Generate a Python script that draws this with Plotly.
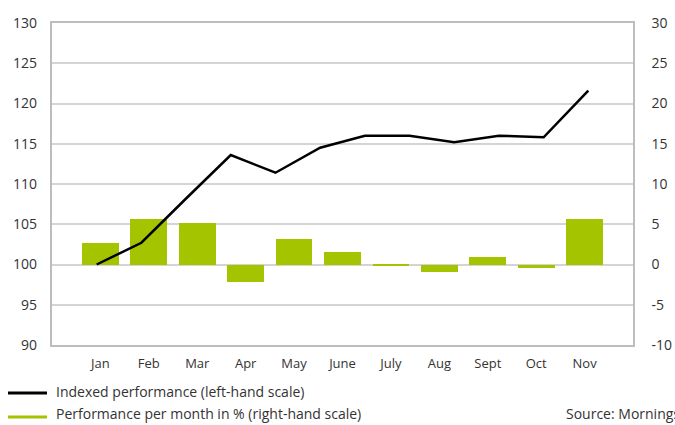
import plotly.graph_objects as go

months = ["Jan", "Feb", "Mar", "Apr", "May", "June", "July", "Aug", "Sept", "Oct", "Nov"]
monthly_pct = [2.7, 5.7, 5.2, -2.2, 3.2, 1.6, -0.15, -0.9, 0.95, -0.4, 5.7]
# indexed performance: start value + 11 month-end values
index_points = list(range(12))
index_values = [100.0, 102.7, 108.2, 113.6, 111.4, 114.5, 116.0, 116.0, 115.2, 116.0, 115.8, 121.6]

left_ticks = list(range(90, 131, 5))
right_ticks = list(range(-10, 31, 5))
right_ticktext = [str(v) for v in right_ticks]  # plain hyphen minus as in the original

GREEN = "#a5c400"
GRID = "#d4d4d4"
FRAME = "#bdbdbd"
TEXT = "#333333"
FONT = "Open Sans"

fig = go.Figure()
# bars: main subplot (x, y) where y is the right-hand % scale
fig.add_trace(go.Bar(
    x=list(range(len(months))), y=monthly_pct, marker_color=GREEN, marker_line_width=0,
    width=0.76, xaxis="x", yaxis="y", showlegend=False, hoverinfo="skip"))
# line: overlay subplot (x2, y2) where y2 is the left-hand index scale
fig.add_trace(go.Scatter(
    x=index_points, y=index_values, mode="lines", line=dict(color="black", width=2.5),
    xaxis="x2", yaxis="y2", showlegend=False, hoverinfo="skip"))

fig.update_layout(
    width=675, height=425,
    margin=dict(l=52, r=42, t=23, b=80, autoexpand=False),
    paper_bgcolor="white", plot_bgcolor="white",
    font=dict(family=FONT, color=TEXT, size=14),
    xaxis=dict(range=[-1, 11], tickmode="array", tickvals=list(range(len(months))), ticktext=months,
               showgrid=False, zeroline=False, showline=True, linecolor=FRAME, linewidth=1.5,
               mirror=True, ticks="", automargin=False, ticklabelstandoff=6,
               tickfont=dict(size=13, family=FONT, color=TEXT)),
    xaxis2=dict(range=[-1, 12], overlaying="x", visible=False, automargin=False),
    yaxis=dict(range=[-10, 30], tickmode="array", tickvals=right_ticks, ticktext=right_ticktext,
               side="right", showgrid=True, gridcolor=GRID, gridwidth=1.5,
               zeroline=False, showline=True, linecolor=FRAME, linewidth=1.5, mirror=True, ticks="",
               ticklabelstandoff=14, automargin=False,
               tickfont=dict(size=14, family=FONT, color=TEXT)),
    yaxis2=dict(range=[90, 130], tickvals=left_ticks, overlaying="y", side="left", anchor="x",
                showgrid=False, zeroline=False, showline=False, ticks="", ticklabelstandoff=14,
                automargin=False, tickfont=dict(size=14, family=FONT, color=TEXT)),
    bargap=0,
)

# legend drawn manually (line samples + labels)
def px_x(p):
    return (p - 52) / 581.0

def px_y(p):
    return (345 - p) / 322.0

legend_items = [("Indexed performance (left-hand scale)", "black", 393, 391),
                ("Performance per month in % (right-hand scale)", GREEN, 417, 414)]
for label, col, line_y, text_y in legend_items:
    fig.add_shape(type="line", xref="paper", yref="paper", x0=px_x(8), x1=px_x(47),
                  y0=px_y(line_y), y1=px_y(line_y), line=dict(color=col, width=3))
    fig.add_annotation(text=label, xref="paper", yref="paper", x=px_x(54), y=px_y(text_y),
                       xanchor="left", yanchor="middle", showarrow=False,
                       font=dict(size=14, family=FONT, color=TEXT))
fig.add_annotation(text="Source: Morningstar", xref="paper", yref="paper", x=px_x(564), y=px_y(414),
                   xanchor="left", yanchor="middle", showarrow=False,
                   font=dict(size=14, family=FONT, color=TEXT))

fig.write_html("out.html", config={"displayModeBar": False},
               post_script="document.body.style.margin='0';document.body.style.overflow='hidden';")
